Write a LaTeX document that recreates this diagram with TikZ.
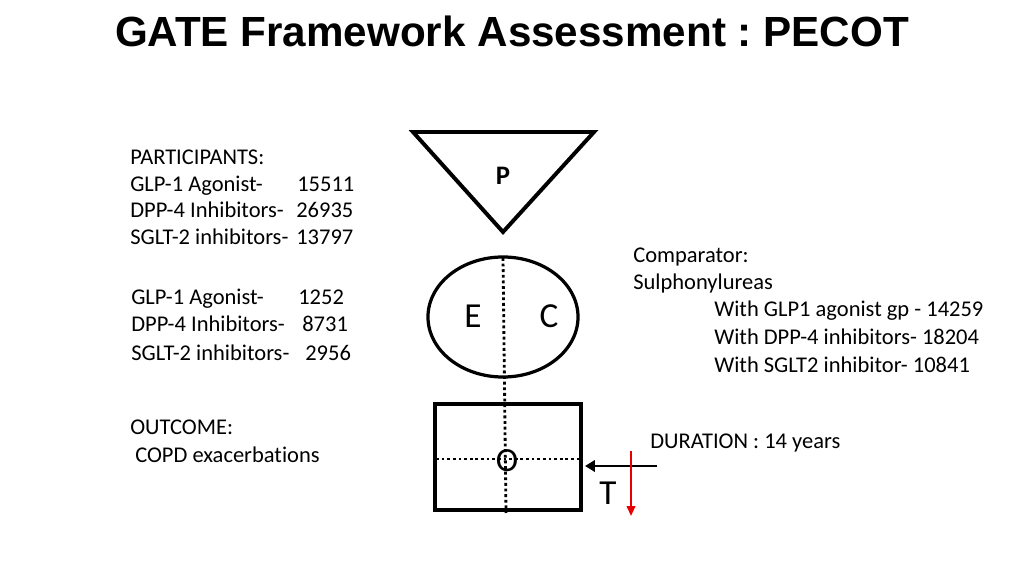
\documentclass[tikz,border=0pt]{standalone}
\usepackage{fontspec}
\setmainfont{Carlito}[Ligatures=NoCommon]
\newfontfamily\titlefont{Liberation Sans}
\usetikzlibrary{arrows.meta}
\frenchspacing

\begin{document}
\begin{tikzpicture}[x=0.025cm,y=-0.025cm,
    txt/.style={anchor=base west,inner sep=0pt,font=\fontsize{16}{19}\selectfont},
    letter/.style={anchor=base,inner sep=0pt,font=\fontsize{25}{28}\selectfont},
    dots/.style={line width=2pt,dash pattern=on 2pt off 2pt}]
    \useasboundingbox (0,0) rectangle (1024,576);
    \node[anchor=base,inner sep=0pt,font=\titlefont\bfseries\fontsize{30}{34}\selectfont] (title) at (512,47) {GATE Framework Assessment : PECOT};

    \coordinate (pl) at (413,132);
    \coordinate (pr) at (594,132);
    \coordinate (pb) at (503,232);
    \draw[line width=2.8pt] (pl) -- (pr) -- (pb) -- cycle;
    \node[anchor=base,inner sep=0pt,font=\bfseries\fontsize{19}{22}\selectfont] (p) at (503,185) {P};

    \coordinate (ec) at (503,317);
    \draw[line width=2.3pt] (ec) ellipse (1.875cm and 1.5cm);
    \node[letter] (e) at (473,327) {E};
    \node[letter] (c) at (549,327) {C};

    \coordinate (ol) at (435,404);
    \coordinate (or) at (581,510);
    \draw[line width=2.5pt] (ol) rectangle (or);
    \coordinate (vtop) at (503,258);
    \coordinate (vbot) at (506,513);
    \coordinate (hl) at (436,459);
    \coordinate (hr) at (580,459);
    \draw[dots] (vtop) -- (vbot);
    \draw[dots] (hl) -- (hr);
    \node[inner sep=0pt,font=\fontsize{24}{28}\selectfont] (o) at (507,461) {O};

    \coordinate (ds) at (657,466);
    \coordinate (de) at (585,466);
    \draw[line width=2pt,-{Triangle[length=7pt,width=8pt]}] (ds) -- (de);
    \coordinate (ts) at (631,451);
    \coordinate (te) at (631,516);
    \draw[line width=1.4pt,color={rgb,255:red,232; green,0; blue,0},-{Triangle[length=7pt,width=6pt]}] (ts) -- (te);
    \node[letter] (t) at (608,504) {T};

    \node[txt] (part) at (130,165) {PARTICIPANTS:};
    \node[txt] (glpa) at (130,192) {GLP-1 Agonist-};
    \node[txt] (dppa) at (130,218) {DPP-4 Inhibitors-};
    \node[txt] (sglta) at (130,245) {SGLT-2 inhibitors-};
    \node[txt] (glpan) at (297,192) {15511};
    \node[txt] (dppan) at (296,218) {26935};
    \node[txt] (sgltan) at (296,245) {13797};

    \node[txt] (glpb) at (131,305) {GLP-1 Agonist-};
    \node[txt] (dppb) at (131,332) {DPP-4 Inhibitors-};
    \node[txt] (sgltb) at (131,360) {SGLT-2 inhibitors-};
    \node[txt] (glpbn) at (298,305) {1252};
    \node[txt] (dppbn) at (302,332) {8731};
    \node[txt] (sgltbn) at (305,360) {2956};

    \node[txt] (outc) at (130,434) {OUTCOME:};
    \node[txt] (copd) at (135,462) {COPD exacerbations};

    \node[txt] (comp) at (633,263) {Comparator:};
    \node[txt] (sulph) at (633,290) {Sulphonylureas};
    \node[txt] (wglp) at (714,317) {With GLP1 agonist gp - 14259};
    \node[txt] (wdpp) at (714,344) {With DPP-4 inhibitors- 18204};
    \node[txt] (wsglt) at (714,372) {With SGLT2 inhibitor- 10841};

    \node[txt] (dur) at (650,448) {DURATION : 14 years};

\end{tikzpicture}
\end{document}
